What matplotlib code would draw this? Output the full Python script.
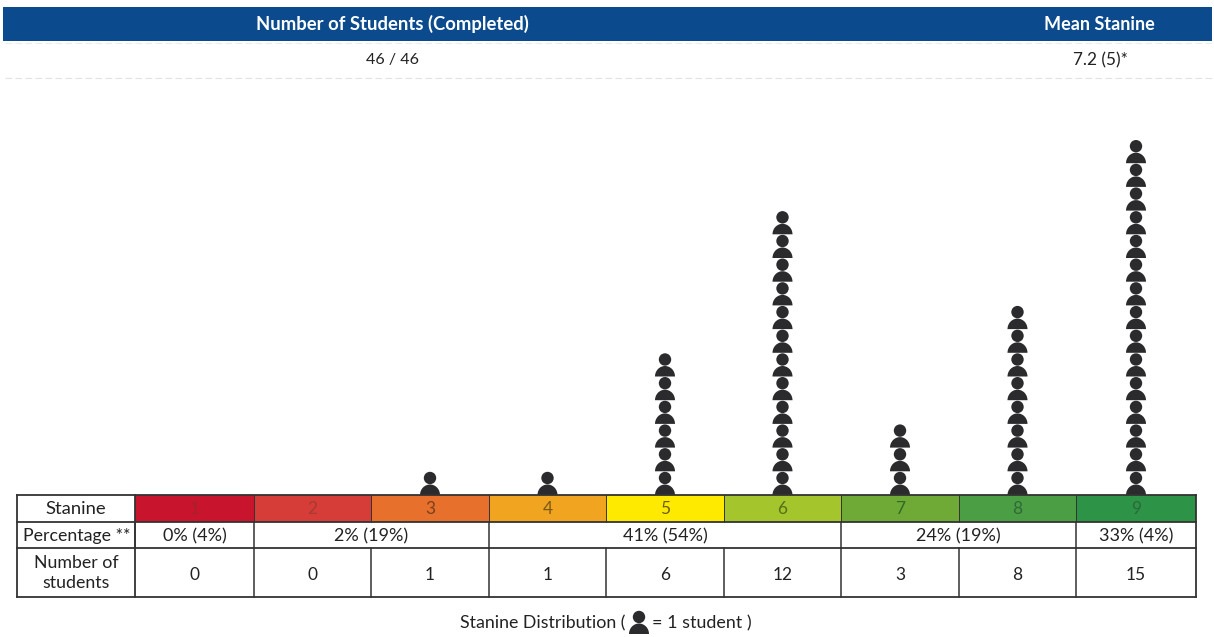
import matplotlib.pyplot as plt
from matplotlib.patches import Rectangle, Circle, Wedge
from matplotlib.transforms import Affine2D

plt.rcParams['font.family'] = ['Lato', 'DejaVu Sans']

# values from the table
stanines = [1, 2, 3, 4, 5, 6, 7, 8, 9]
counts = [0, 0, 1, 1, 6, 12, 3, 8, 15]
band_colors = ['#c8142c', '#d63c38', '#e7702c', '#f0a41f', '#fdea00',
               '#a5c52d', '#70aa36', '#4c9e45', '#2d9347']
label_colors = ['#a8202c', '#a83a30', '#7a4020', '#7a5a18', '#6a6010',
                '#55701c', '#2f6a28', '#2f6a38', '#2a6a3a']
# percentage bands: (first stanine, last stanine, label)
bands = [(1, 1, '0% (4%)'), (2, 3, '2% (19%)'), (4, 6, '41% (54%)'),
         (7, 8, '24% (19%)'), (9, 9, '33% (4%)')]
header_left = 'Number of Students (Completed)'
header_right = 'Mean Stanine'
completed = '46 / 46'
mean_stanine = '7.2 (5)*'

# layout in pixels
edges = [135, 254, 371, 489, 606, 724, 841, 959, 1076, 1196]
left = 17
y_top, y_band, y_pct, y_bottom = 495, 522, 548, 597
pitch = 23.7
ink = '#2b2b2d'
grid = '#333333'
txt = '#222222'

fig = plt.figure(figsize=(12.14, 6.37), dpi=100)
ax = fig.add_axes([0, 0, 1, 1])
ax.set_xlim(0, 1214)
ax.set_ylim(637, 0)
ax.axis('off')


def person(ax, x, base):
    # body is a flattened half dome, head a circle on top
    body = Wedge((0, 0), 10, 0, 180, fc=ink, ec='none')
    body.set_transform(Affine2D().scale(1, -1.05).translate(x, base) + ax.transData)
    ax.add_patch(body)
    ax.add_patch(Circle((x, base - 17), 6.2, fc=ink, ec='none'))


# header bar
ax.add_patch(Rectangle((3, 7), 1209, 34, fc='#0b4a8c', ec='none'))
ax.text(392, 24, header_left, color='white', fontsize=13.3, fontweight='bold', ha='center', va='center')
ax.text(1099, 24, header_right, color='white', fontsize=13, fontweight='bold', ha='center', va='center')
ax.text(392, 60, completed, color=txt, fontsize=11.5, ha='center', va='center')
ax.text(1100, 60, mean_stanine, color=txt, fontsize=12.4, ha='center', va='center')
ax.plot([5, 1212], [78, 78], color='#e2e2e2', lw=0.8, ls=(0, (6, 3)))
ax.plot([5, 1212], [43, 43], color='#ececec', lw=0.8, ls=(0, (6, 3)))

# person stacks
for i, n in enumerate(counts):
    cx = (edges[i] + edges[i + 1]) / 2
    for k in range(n):
        person(ax, cx, y_top - k * pitch)

# stanine colour row
for i, s in enumerate(stanines):
    x0, x1 = edges[i], edges[i + 1]
    ax.add_patch(Rectangle((x0, y_top), x1 - x0, y_band - y_top, fc=band_colors[i], ec='none'))
    ax.text((x0 + x1) / 2, 509, str(s), color=label_colors[i], fontsize=12.5, ha='center', va='center')
    ax.text((x0 + x1) / 2, 575, str(counts[i]), color=txt, fontsize=12.5, ha='center', va='center')

# percentage row
for first, last, label in bands:
    x0, x1 = edges[first - 1], edges[last]
    ax.text((x0 + x1) / 2, 536, label, color=txt, fontsize=13, ha='center', va='center')
    ax.plot([x0, x0], [y_band, y_pct], color=grid, lw=1.1)

# row titles
ax.text(76, 509, 'Stanine', color=txt, fontsize=13.3, ha='center', va='center')
ax.text(77, 536, 'Percentage **', color=txt, fontsize=12.8, ha='center', va='center')
ax.text(76, 573, 'Number of\nstudents', color=txt, fontsize=12.8, ha='center', va='center', linespacing=1.35)

# table rules
for y in [y_top, y_band, y_pct, y_bottom]:
    ax.plot([left, edges[-1]], [y, y], color=grid, lw=1.3)
for x in [left, edges[0], edges[-1]]:
    ax.plot([x, x], [y_top, y_bottom], color=grid, lw=1.3)
for x in edges[1:-1]:
    ax.plot([x, x], [y_top, y_band], color=grid, lw=0.7)
    ax.plot([x, x], [y_pct, y_bottom], color=grid, lw=1.1)

# caption with the key icon
ax.text(626, 623, 'Stanine Distribution (', color=txt, fontsize=12.8, ha='right', va='center')
person(ax, 639, 634)
ax.text(652, 623, '= 1 student )', color=txt, fontsize=12.9, ha='left', va='center')

fig.savefig('out.png', dpi=100)
